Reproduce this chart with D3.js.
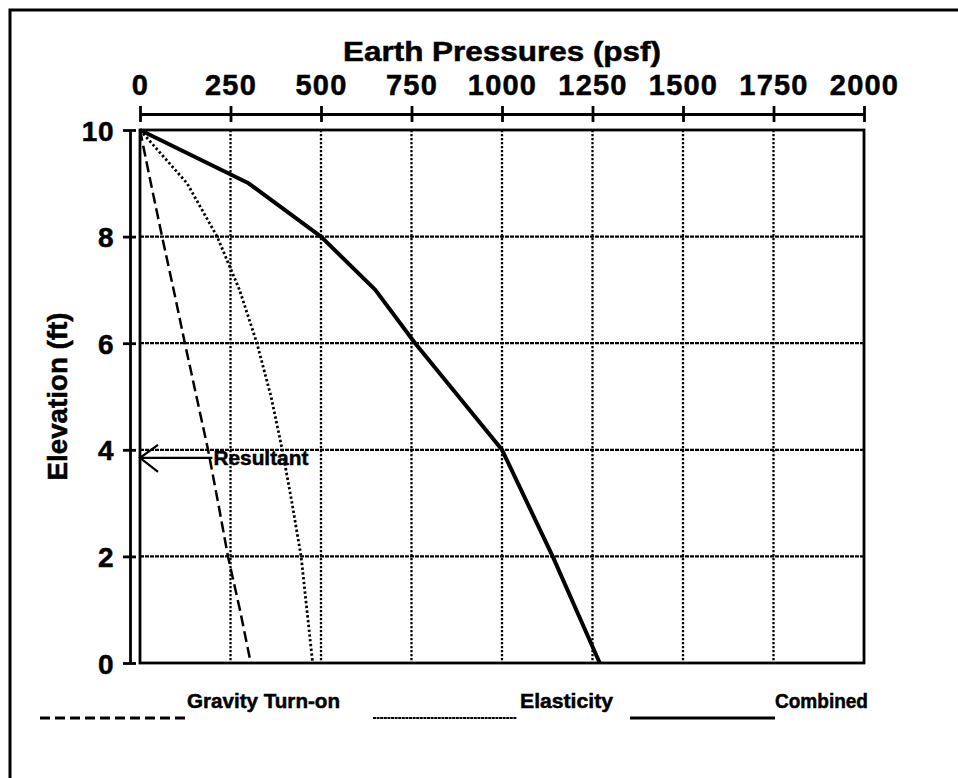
<!DOCTYPE html>
<html>
<head>
<meta charset="utf-8">
<script src="https://cdn.jsdelivr.net/npm/d3@7"></script>
<style>
  html, body { margin: 0; padding: 0; background: #fff; }
  svg text { font-family: "Liberation Sans", Arial, sans-serif; font-weight: bold; fill: #000; stroke: #000; stroke-width: 0.5px; }
</style>
</head>
<body>
<svg id="chart" width="958" height="778"></svg>
<script>
// Lateral earth pressure vs. wall elevation
const elevations = [10, 9, 8, 7, 6, 5, 4, 3, 2, 1, 0];          // ft
const gravityTurnOn = [0, 30, 61, 93, 124, 156, 188, 216, 243, 276, 306];   // psf
const elasticity = [0, 130, 213, 275, 323, 362, 393, 420, 445, 461, 477];   // psf
const combined = [0, 300, 500, 650, 760, 880, 1000, 1070, 1140, 1205, 1270]; // psf

const xTickValues = [0, 250, 500, 750, 1000, 1250, 1500, 1750, 2000];
const yTickValues = [0, 2, 4, 6, 8, 10];

const resultantElevation = 3.85;   // ft
const resultantArrowEnd = 200;     // psf (arrow length along x)

const seriesNames = ["Gravity Turn-on", "Elasticity", "Combined"];

const svg = d3.select("#chart");

// outer frame
svg.append("rect")
  .attr("x", 10).attr("y", 10)
  .attr("width", 1000).attr("height", 900)
  .attr("fill", "none").attr("stroke", "#000").attr("stroke-width", 3);

const plot = { left: 140, right: 864, top: 130, bottom: 663 };

const x = d3.scaleLinear().domain([0, 2000]).range([plot.left, plot.right]);
const y = d3.scaleLinear().domain([0, 10]).range([plot.bottom, plot.top]);

// grid
const grid = svg.append("g");
grid.selectAll("line.vg")
  .data(xTickValues.filter(v => v > 0 && v < 2000))
  .join("line")
  .attr("x1", d => x(d)).attr("x2", d => x(d))
  .attr("y1", plot.top).attr("y2", plot.bottom)
  .attr("stroke", "#000").attr("stroke-width", 2.3)
  .attr("stroke-dasharray", "2.2,1.8");
grid.selectAll("line.hg")
  .data(yTickValues.filter(v => v > 0 && v < 10))
  .join("line")
  .attr("x1", plot.left).attr("x2", plot.right)
  .attr("y1", d => y(d)).attr("y2", d => y(d))
  .attr("stroke", "#000").attr("stroke-width", 2.3)
  .attr("stroke-dasharray", "4,1");

// plot border
svg.append("rect")
  .attr("x", plot.left).attr("y", plot.top)
  .attr("width", plot.right - plot.left).attr("height", plot.bottom - plot.top)
  .attr("fill", "none").attr("stroke", "#000").attr("stroke-width", 2.8);

// top axis
const topAxis = svg.append("g")
  .attr("transform", "translate(0,114)")
  .call(d3.axisTop(x).tickValues(xTickValues).tickFormat(d3.format("d")).tickSizeOuter(0).tickSizeInner(8));
topAxis.select(".domain").attr("stroke", "#000").attr("stroke-width", 2.8);
topAxis.selectAll(".tick line").attr("y1", -8).attr("y2", 8).attr("stroke", "#000").attr("stroke-width", 2.8);
topAxis.selectAll(".tick text")
  .attr("y", -19).attr("dy", 0)
  .attr("font-size", 29).attr("letter-spacing", 1.2)
  .style("font-family", '"Liberation Sans", Arial, sans-serif').style("font-weight", "bold");
topAxis.attr("font-size", null).attr("font-family", null);

// left axis
const leftAxis = svg.append("g")
  .attr("transform", "translate(130,0)")
  .call(d3.axisLeft(y).tickValues(yTickValues).tickFormat(d3.format("d")).tickSizeOuter(0).tickSizeInner(7));
leftAxis.select(".domain").attr("stroke", "#000").attr("stroke-width", 2.8);
leftAxis.selectAll(".tick line").attr("x1", -7).attr("x2", 6).attr("stroke", "#000").attr("stroke-width", 2.8);
leftAxis.selectAll(".tick text")
  .attr("x", -16).attr("dy", "0.36em")
  .attr("font-size", 28).attr("letter-spacing", 0.5)
  .style("font-family", '"Liberation Sans", Arial, sans-serif').style("font-weight", "bold");
leftAxis.attr("font-size", null).attr("font-family", null);

// axis titles
svg.append("text")
  .attr("x", (plot.left + plot.right) / 2).attr("y", 61)
  .attr("text-anchor", "middle")
  .attr("font-size", 27)
  .attr("textLength", 318).attr("lengthAdjust", "spacingAndGlyphs")
  .text("Earth Pressures (psf)");

svg.append("text")
  .attr("transform", `translate(67,${(plot.top + plot.bottom) / 2}) rotate(-90)`)
  .attr("text-anchor", "middle")
  .attr("font-size", 28)
  .attr("textLength", 168).attr("lengthAdjust", "spacingAndGlyphs")
  .text("Elevation (ft)");

// curves
const rows = (vals) => elevations.map((e, i) => ({ e, p: vals[i] }));
const line = d3.line().x(d => x(d.p)).y(d => y(d.e)).curve(d3.curveLinear);

svg.append("path").datum(rows(gravityTurnOn))
  .attr("d", line).attr("fill", "none").attr("stroke", "#000")
  .attr("stroke-width", 2.5).attr("stroke-dasharray", "11,5");

svg.append("path").datum(rows(elasticity))
  .attr("d", line).attr("fill", "none").attr("stroke", "#000")
  .attr("stroke-width", 2.8).attr("stroke-dasharray", "2.4,2.4");

svg.append("path").datum(rows(combined))
  .attr("d", line).attr("fill", "none").attr("stroke", "#000")
  .attr("stroke-width", 4).attr("stroke-linejoin", "round");

// resultant arrow
const ry = y(resultantElevation);
const rx0 = x(0), rx1 = x(resultantArrowEnd);
const arrow = svg.append("g").attr("stroke", "#000").attr("stroke-width", 2.2).attr("fill", "none");
arrow.append("line").attr("x1", rx0).attr("x2", rx1).attr("y1", ry).attr("y2", ry);
arrow.append("polyline")
  .attr("points", `${rx0 + 18},${ry - 13} ${rx0},${ry} ${rx0 + 18},${ry + 14}`);
svg.append("text")
  .attr("x", rx1 + 1).attr("y", ry + 7)
  .attr("font-size", 21)
  .attr("textLength", 95).attr("lengthAdjust", "spacingAndGlyphs")
  .text("Resultant");

// legend
const legendY = 718;
const legend = [
  { name: seriesNames[0], x0: 40, x1: 185, dash: "10,5", w: 2.8, tl: 153, tx: 187 },
  { name: seriesNames[1], x0: 373, x1: 517, dash: "3,0.6", w: 1.8, tl: 93, tx: 520 },
  { name: seriesNames[2], x0: 630, x1: 775, dash: null, w: 3, tl: 93, tx: 775 }
];
const lg = svg.append("g");
lg.selectAll("line").data(legend).join("line")
  .attr("x1", d => d.x0).attr("x2", d => d.x1)
  .attr("y1", legendY).attr("y2", legendY)
  .attr("stroke", "#000").attr("stroke-width", d => d.w)
  .attr("stroke-dasharray", d => d.dash);
lg.selectAll("text").data(legend).join("text")
  .attr("x", d => d.tx).attr("y", legendY - 10)
  .attr("font-size", 21)
  .attr("textLength", d => d.tl).attr("lengthAdjust", "spacingAndGlyphs")
  .text(d => d.name);
</script>
</body>
</html>
